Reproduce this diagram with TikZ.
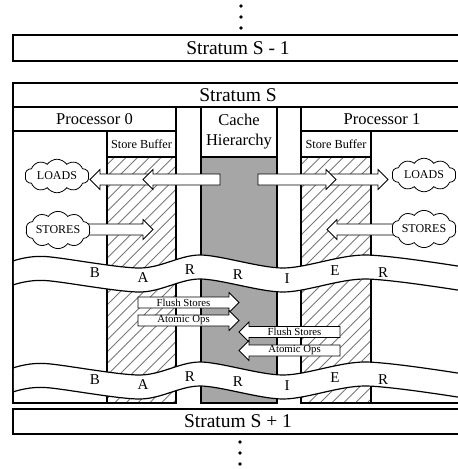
\documentclass[tikz,border=0pt]{standalone}
\usepackage{fontspec}
\setmainfont{Liberation Serif}
\usetikzlibrary{shapes.symbols}

\newcommand{\blockarrow}[3]{% tail x, tip x, mid y
  \pgfmathsetmacro{\arrhx}{#2-10*sign(#2-#1)}%
  \draw[arrbox] (#1,#3-5.5) -- (\arrhx,#3-5.5) -- (\arrhx,#3-10) -- (#2,#3)
    -- (\arrhx,#3+10) -- (\arrhx,#3+5.5) -- (#1,#3+5.5) -- cycle;}

\begin{document}
\begin{tikzpicture}[x=1pt,y=-1pt,
    stratbox/.style={draw,line width=1.4pt,minimum width=450pt,inner sep=0pt,font=\fontsize{19.5}{20}\selectfont},
    head/.style={draw,line width=1.2pt,inner sep=0pt,align=center,font=\fontsize{16.5}{20}\selectfont},
    sbuf/.style={draw,line width=1.2pt,inner sep=0pt,minimum height=26pt,font=\fontsize{12.3}{13}\selectfont},
    col/.style={draw,line width=1.2pt},
    hatch/.style={draw=chatch,line width=0.9pt},
    band/.style={draw,line width=1.2pt},
    arrbox/.style={draw,fill=white,line width=0.8pt},
    puff/.style={cloud,cloud puffs=10,cloud puff arc=110,aspect=2.2,draw,fill=white,line width=0.8pt,
      inner sep=0pt,minimum width=64pt,minimum height=30pt,font=\fontsize{12}{12}\selectfont},
    barl/.style={inner sep=0pt,font=\fontsize{15}{15}\selectfont},
    opl/.style={inner sep=0pt,font=\fontsize{10.8}{11}\selectfont}]
  \definecolor{ccache}{RGB}{166,166,166}
  \definecolor{chatch}{RGB}{120,120,120}
  \useasboundingbox (0,0) rectangle (458,469);
  \clip (0,0) rectangle (458,469);
  % neighbouring strata
  \foreach \dy in {6,17,28} \fill (241,\dy) circle (1.8);
  \foreach \dy in {442,453,464} \fill (240,\dy) circle (1.8);
  \node[stratbox,minimum height=26pt] (sprev) at (238,48) {Stratum S - 1};
  \node[stratbox,minimum height=25pt] (snext) at (238,421.5) {Stratum S + 1};
  % columns of stratum S
  \fill[ccache] (201,157) rectangle (277,403);
  \foreach \hx in {107,301}{%
    \begin{scope}
      \clip (\hx,157) rectangle ({\hx+70},403);
      \foreach \k in {0,...,29}
        \draw[hatch] ({\hx-250+\k*11.7},403) -- ++(260,-260);
    \end{scope}
  }
  \draw[col] (13,131) rectangle (107,403);
  \draw[col] (107,157) rectangle (176,403);
  \draw[col] (201,157) rectangle (277,403);
  \draw[col] (301,157) rectangle (371,403);
  \draw[col] (371,131) rectangle (463,403);
  \node[stratbox,minimum height=24pt] (scur) at (238,95) {Stratum S};
  \node[head,minimum width=163pt,minimum height=24pt] (proc0) at (94.5,119) {Processor 0};
  \node[head,minimum width=162pt,minimum height=24pt] (proc1) at (382,119) {Processor 1};
  \node[head,minimum width=76pt,minimum height=50pt] (cache) at (239,132) {Cache\\Hierarchy};
  \node[sbuf,minimum width=69pt] (sb0) at (141.5,144) {Store Buffer};
  \node[sbuf,minimum width=70pt] (sb1) at (336,144) {Store Buffer};
  % barrier bands
  \foreach \by in {0,107}{%
    \begin{scope}[shift={(0,\by)}]
      \fill[white] plot[smooth] coordinates {(13.8,260.9) (45,256.5) (140,268) (200,255) (283,268) (365,255) (470,268)}
        -- plot[smooth] coordinates {(470,292) (365,279) (283,292) (200,279) (140,292) (45,280.5) (13.8,284.9)} -- cycle;
      \draw[band] plot[smooth] coordinates {(13,261) (45,256.5) (140,268) (200,255) (283,268) (365,255) (470,268)};
      \draw[band] plot[smooth] coordinates {(13,285) (45,280.5) (140,292) (200,279) (283,292) (365,279) (470,292)};
      \foreach \lx/\ly/\lt [count=\i] in {95/273/B,143/278/A,190/270/R,238/275/R,287/279/I,335/271/E,383/273/R}
        \node[barl] (bar\by-\i) at (\lx,\ly) {\lt};
    \end{scope}
  }
  % loads and stores
  \blockarrow{150}{90}{179.5}
  \blockarrow{220}{143}{179.5}
  \blockarrow{330}{388}{179.5}
  \blockarrow{258}{336}{179.5}
  \blockarrow{80}{153}{229.5}
  \blockarrow{400}{327}{229.5}
  \node[puff] (ld0) at (57,176) {LOADS};
  \node[puff] (st0) at (58,230) {STORES};
  \node[puff] (ld1) at (424,175) {LOADS};
  \node[puff] (st1) at (424,229) {STORES};
  % flushes and atomics
  \blockarrow{138}{239}{302.5}
  \blockarrow{138}{239}{320.5}
  \blockarrow{340}{239}{332}
  \blockarrow{340}{239}{350.5}
  \node[opl] (fs0) at (183.5,302.5) {Flush Stores};
  \node[opl] (ao0) at (183.5,320.5) {Atomic Ops};
  \node[opl] (fs1) at (294.5,332) {Flush Stores};
  \node[opl] (ao1) at (294.5,350.5) {Atomic Ops};
\end{tikzpicture}
\end{document}
